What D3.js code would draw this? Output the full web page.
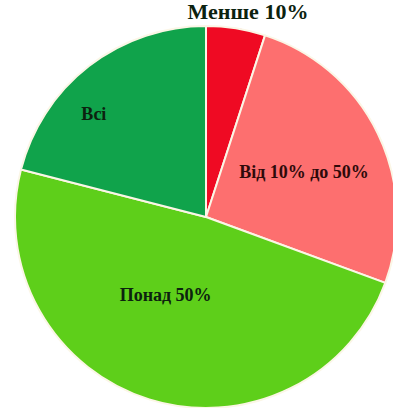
<!DOCTYPE html>
<html>
<head>
<meta charset="utf-8">
<script src="https://cdn.jsdelivr.net/npm/d3@7"></script>
<style>
  html, body { margin: 0; padding: 0; background: #fff; }
</style>
</head>
<body>
<div id="chart"></div>
<script>
// share of each group, clockwise from 12 o'clock
const categories = ["Менше 10%", "Від 10% до 50%", "Понад 50%", "Всі"];
const values = [5, 25.6, 48.4, 21];
const colors = ["#ef0a23", "#fd6f6f", "#5ecf1a", "#10a34b"];

const width = 393;
const height = 408;
const cx = 206, cy = 217;
const radius = 191;

let svg = d3.select("#chart")
  .append("svg")
    .attr("width", width)
    .attr("height", height);

let g = svg.append("g")
  .attr("transform", "translate(" + cx + "," + cy + ")");

let pie = d3.pie()
  .sort(null)
  .value(d => d.value);

let slices = pie(categories.map((c, i) => ({ key: c, value: values[i] })));

let arc = d3.arc().innerRadius(0).outerRadius(radius);

let color = d3.scaleOrdinal()
  .domain(categories)
  .range(colors);

g.selectAll("path")
  .data(slices)
  .enter()
  .append("path")
    .attr("d", arc)
    .attr("fill", d => color(d.data.key))
    .attr("stroke", "#fbf6e6")
    .style("stroke-width", 2)
    .style("stroke-linejoin", "round");

// label placement: radius fraction and angle shift from the slice's mid angle
const labelPos = [
  { r: 1.085, da: 0.047, size: 22 },
  { r: 0.56, da: 0.04, size: 18 },
  { r: 0.47, da: 0.165, size: 18 },
  { r: 0.79, da: -0.178, size: 18 }
];

g.selectAll("text.label")
  .data(slices)
  .enter()
  .append("text")
    .attr("class", "label")
    .attr("transform", (d, i) => {
      let a = (d.startAngle + d.endAngle) / 2 + labelPos[i].da;
      let r = radius * labelPos[i].r;
      return "translate(" + (Math.sin(a) * r) + "," + (-Math.cos(a) * r) + ")";
    })
    .attr("text-anchor", "middle")
    .style("dominant-baseline", "middle")
    .style("font-family", "'Liberation Serif', 'DejaVu Serif', serif")
    .style("font-weight", "bold")
    .style("font-size", (d, i) => labelPos[i].size + "px")
    .style("fill", (d, i) => i == 1 ? "#2e0a0a" : "#0c220f")
    .text(d => d.data.key);
</script>
</body>
</html>
